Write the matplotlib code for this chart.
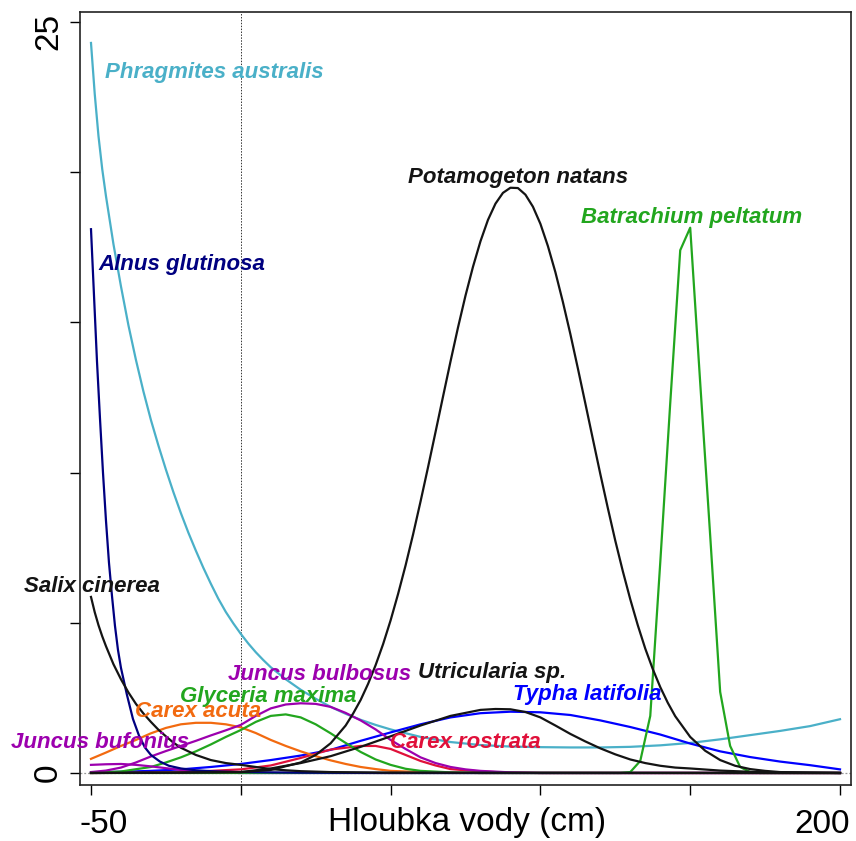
import matplotlib
matplotlib.use("Agg")
import matplotlib.pyplot as plt
from matplotlib.transforms import blended_transform_factory

plt.rcParams['font.family'] = ['Liberation Sans', 'DejaVu Sans']

# ---- species response curves along water depth (cm) ----
phragmites_x = [-50, -48.75, -47.5, -46.25, -45, -42.5, -40, -37.5, -35, -32.5, -30, -27.5, -25, -22.5, -20, -17.5,
                -15, -12.5, -10, -7.5, -5, -2.5, 0, 2.5, 5, 7.5, 10, 15, 20, 25, 30, 35, 40, 45, 50, 60, 70, 80,
                90, 100, 110, 120, 130, 140, 150, 160, 170, 180, 190, 200]
phragmites_y = [24.3, 22.6, 21.2, 20.1, 19.2, 17.6, 16.2, 14.9, 13.75, 12.7, 11.75, 10.9, 10.1, 9.35, 8.65, 8.0,
                7.4, 6.83, 6.3, 5.8, 5.36, 4.98, 4.63, 4.31, 4.02, 3.76, 3.52, 3.12, 2.77, 2.47, 2.2, 1.97, 1.77, 1.6,
                1.45, 1.2, 1.03, 0.93, 0.88, 0.86, 0.85, 0.85, 0.87, 0.92, 1.0, 1.12, 1.26, 1.4, 1.56, 1.79]

alnus_x = [-50, -49, -48, -47, -46, -45, -44, -43, -42, -41, -40, -38, -36, -34, -32, -30, -27, -24, -20, -15, -10,
           0, 20, 50, 200]
alnus_y = [18.1, 15.9, 13.7, 11.8, 10.0, 8.4, 7.0, 5.9, 4.9, 4.1, 3.5, 2.6, 1.8, 1.25, 0.85, 0.6, 0.38, 0.24, 0.15,
           0.09, 0.06, 0.03, 0.01, 0.0, 0.0]

salix_x = [-50, -48.75, -47.5, -46.25, -45, -42.5, -40, -37.5, -35, -32.5, -30, -27.5, -25, -22.5, -20, -15, -10,
           -5, 0, 5, 10, 15, 20, 30, 50, 200]
salix_y = [5.86, 5.35, 4.92, 4.55, 4.22, 3.62, 3.12, 2.68, 2.3, 1.98, 1.7, 1.44, 1.22, 1.01, 0.84, 0.6, 0.43, 0.33,
           0.27, 0.2, 0.13, 0.09, 0.06, 0.03, 0.01, 0.0]

potamogeton_x = [-50, 0, 10, 20, 25, 30, 35, 37.5, 40, 42.5, 45, 47.5, 50, 52.5, 55, 57.5, 60, 62.5, 65, 67.5, 70,
                 72.5, 75, 77.5, 80, 82.5, 85, 87.5, 90, 92.5, 95, 97.5, 100, 102.5, 105, 107.5, 110, 112.5, 115,
                 117.5, 120, 122.5, 125, 127.5, 130, 132.5, 135, 137.5, 140, 142.5, 145, 150, 155, 160, 165, 170,
                 175, 180, 190, 200]
potamogeton_y = [0.0, 0.03, 0.1, 0.35, 0.6, 0.99, 1.58, 1.98, 2.43, 2.97, 3.59, 4.29, 5.08, 5.96, 6.91, 7.94, 9.04,
                 10.18, 11.35, 12.53, 13.7, 14.83, 15.89, 16.85, 17.7, 18.41, 18.95, 19.31, 19.48, 19.47, 19.25,
                 18.85, 18.28, 17.54, 16.67, 15.68, 14.61, 13.47, 12.3, 11.12, 9.95, 8.82, 7.73, 6.72, 5.78, 4.92,
                 4.14, 3.46, 2.86, 2.34, 1.89, 1.2, 0.74, 0.43, 0.24, 0.13, 0.07, 0.03, 0.01, 0.0]

batrachium_x = [-50, 126.67, 130, 133.33, 136.67, 140, 143.33, 146.67, 150, 153.33, 156.67, 160, 163.33, 166.67,
                170, 173.33, 200]
batrachium_y = [0.0, 0.0, 0.03, 0.4, 1.9, 7.0, 12.3, 17.4, 18.15, 13.0, 7.9, 2.7, 0.9, 0.2, 0.03, 0.0, 0.0]

utricularia_x = [-50, -20, 0, 10, 20, 30, 40, 50, 60, 70, 80, 85, 90, 95, 100, 105, 110, 115, 120, 125, 130, 135,
                 140, 145, 150, 160, 170, 180, 200]
utricularia_y = [0.0, 0.01, 0.03, 0.15, 0.33, 0.56, 0.87, 1.22, 1.58, 1.9, 2.1, 2.13, 2.12, 2.03, 1.85, 1.58, 1.3,
                 1.05, 0.82, 0.62, 0.45, 0.33, 0.24, 0.18, 0.15, 0.08, 0.04, 0.02, 0.0]

typha_x = [-50, -40, -30, -20, -10, 0, 10, 20, 30, 40, 50, 60, 70, 80, 90, 100, 110, 120, 130, 140, 150, 160, 170,
           180, 190, 200]
typha_y = [0.02, 0.04, 0.07, 0.12, 0.2, 0.3, 0.43, 0.58, 0.77, 1.07, 1.35, 1.62, 1.85, 1.99, 2.04, 2.02, 1.93, 1.75,
           1.53, 1.28, 0.98, 0.72, 0.53, 0.38, 0.26, 0.12]

rostrata_x = [-50, -20, 0, 10, 20, 30, 40, 45, 50, 55, 60, 65, 70, 80, 90, 100, 200]
rostrata_y = [0.0, 0.02, 0.12, 0.25, 0.5, 0.78, 0.9, 0.9, 0.8, 0.6, 0.4, 0.25, 0.13, 0.05, 0.01, 0.0, 0.0]

acuta_x = [-50, -45, -40, -35, -30, -25, -20, -15, -10, -5, 0, 5, 10, 15, 20, 25, 30, 35, 40, 45, 50, 60, 70, 80, 200]
acuta_y = [0.47, 0.68, 0.9, 1.1, 1.32, 1.5, 1.62, 1.67, 1.67, 1.62, 1.52, 1.33, 1.1, 0.9, 0.72, 0.56, 0.42, 0.3,
           0.2, 0.13, 0.07, 0.03, 0.01, 0.0, 0.0]

glyceria_x = [-50, -40, -30, -25, -20, -15, -10, -5, 0, 5, 10, 15, 20, 25, 30, 35, 40, 45, 50, 55, 60, 70, 80, 200]
glyceria_y = [0.01, 0.05, 0.2, 0.35, 0.52, 0.72, 0.95, 1.2, 1.43, 1.7, 1.9, 1.95, 1.85, 1.62, 1.32, 1.0, 0.7, 0.45,
              0.27, 0.14, 0.07, 0.02, 0.0, 0.0]

bulbosus_x = [-50, -45, -40, -35, -30, -25, -20, -15, -10, -5, 0, 5, 10, 15, 20, 25, 30, 35, 40, 45, 50, 55, 60,
              65, 70, 75, 80, 90, 100, 200]
bulbosus_y = [0.03, 0.08, 0.18, 0.35, 0.55, 0.73, 0.9, 1.07, 1.25, 1.42, 1.6, 1.9, 2.15, 2.28, 2.32, 2.3, 2.2, 2.0,
              1.75, 1.45, 1.1, 0.8, 0.52, 0.33, 0.2, 0.12, 0.07, 0.02, 0.0, 0.0]

bufonius_x = [-50, -45, -40, -35, -30, -25, -20, -15, -10, 0, 200]
bufonius_y = [0.27, 0.29, 0.3, 0.27, 0.22, 0.16, 0.1, 0.05, 0.02, 0.0, 0.0]

CYAN, NAVY, BLACK, GREEN = "#4AB0C8", "#000080", "#141414", "#22A61E"
BLUE, RED, ORANGE, PURPLE = "#0000FF", "#E0103A", "#F26A10", "#9C00AE"

series = [
    (phragmites_x, phragmites_y, CYAN),
    (typha_x, typha_y, BLUE),
    (rostrata_x, rostrata_y, RED),
    (acuta_x, acuta_y, ORANGE),
    (glyceria_x, glyceria_y, GREEN),
    (bulbosus_x, bulbosus_y, PURPLE),
    (bufonius_x, bufonius_y, PURPLE),
    (batrachium_x, batrachium_y, GREEN),
    (alnus_x, alnus_y, NAVY),
    (utricularia_x, utricularia_y, BLACK),
    (salix_x, salix_y, BLACK),
    (potamogeton_x, potamogeton_y, BLACK),
]

# species names: (text, x, baseline y, colour)
labels = [
    ("Phragmites australis", -45.3, 23.14, CYAN),
    ("Alnus glutinosa", -47.6, 16.74, NAVY),
    ("Potamogeton natans", 55.9, 19.63, BLACK),
    ("Batrachium peltatum", 113.4, 18.3, GREEN),
    ("Salix cinerea", -72.4, 6.04, BLACK),
    ("Juncus bulbosus", -4.4, 3.1, PURPLE),
    ("Utricularia sp.", 59.2, 3.15, BLACK),
    ("Glyceria maxima", -20.3, 2.37, GREEN),
    ("Typha latifolia", 91.0, 2.43, BLUE),
    ("Carex acuta", -35.3, 1.87, ORANGE),
    ("Juncus bufonius", -76.8, 0.82, PURPLE),
    ("Carex rostrata", 49.8, 0.82, RED),
]

x_ticks = [-50, 0, 50, 100, 150, 200]
y_ticks = [0, 5, 10, 15, 20, 25]

fig = plt.figure(figsize=(8.56, 8.41), dpi=100)
ax = fig.add_axes([80 / 856, 1 - 785 / 841, 771 / 856, 773 / 841])

ax.axvline(0, color="#333333", lw=0.7, ls=(0, (1.5, 1.5)), zorder=1)
ax.axhline(0, color="#999999", lw=0.9, ls=(0, (1.5, 1.5)), zorder=1)

for xs, ys, col in series:
    ax.plot(xs, ys, color=col, lw=1.6, solid_joinstyle="round", zorder=2)

for text, lx, ly, col in labels:
    ax.text(lx, ly, text, color=col, fontsize=16, fontweight="bold", fontstyle="italic",
            ha="left", va="baseline", zorder=3)

ax.set_xlim(-53.67, 203.67)
ax.set_ylim(-0.4, 25.33)
ax.set_xticks(x_ticks)
ax.set_yticks(y_ticks)
ax.set_xticklabels([])
ax.set_yticklabels([])
ax.tick_params(direction="out", length=7, width=1.0, color="black")
for sp in ax.spines.values():
    sp.set_linewidth(1.2)
    sp.set_color("#222222")

# only the end ticks carry numbers
tx = blended_transform_factory(ax.transData, fig.transFigure)
ax.text(x_ticks[0] - 3.9, 1 - 833 / 841, "-50", transform=tx, fontsize=24, ha="left", va="baseline")
ax.text(x_ticks[-1] + 3.4, 1 - 833 / 841, "200", transform=tx, fontsize=24, ha="right", va="baseline")
ty = blended_transform_factory(fig.transFigure, ax.transData)
ax.text(64 / 856, y_ticks[-1] + 0.3, "25", transform=ty, fontsize=24, rotation=90, ha="right", va="top")
ax.text(64 / 856, y_ticks[0], "0", transform=ty, fontsize=24, rotation=90, ha="right", va="center")
fig.text(467 / 856, 1 - 831 / 841, "Hloubka vody (cm)", fontsize=24, ha="center", va="baseline")

fig.savefig("out.png", dpi=100)
